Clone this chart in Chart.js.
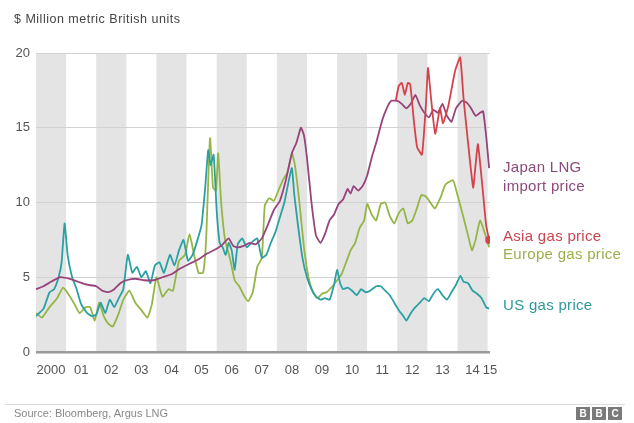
<!DOCTYPE html>
<html>
<head>
<meta charset="utf-8">
<script src="https://cdn.jsdelivr.net/npm/chart.js@4"></script>
<style>
  html, body { margin: 0; padding: 0; background: #fff; }
  #wrap { position: relative; width: 634px; height: 423px; font-family: "Liberation Sans", Arial, sans-serif; }
  #gasChart { position: absolute; left: 0; top: 0; }
  .unit { position: absolute; left: 14px; top: 12px; font-size: 12.5px; letter-spacing: 0.5px; color: #444; }
  .label { position: absolute; left: 503px; font-size: 15px; line-height: 19px; letter-spacing: 0.3px; }
  .rule { position: absolute; left: 5px; right: 9px; top: 404px; height: 1px; background: #dcdcdc; }
  .source { position: absolute; left: 14px; top: 407px; font-size: 11px; color: #888; }
  .bbc { position: absolute; left: 576px; top: 407px; display: flex; gap: 2px; }
  .bbc span { width: 14px; height: 13px; background: #7a7a7a; color: #fff; font: bold 10px "Liberation Sans", Arial, sans-serif; text-align: center; line-height: 13px; }
</style>
</head>
<body>
<div id="wrap">
  <canvas id="gasChart" width="634" height="423"></canvas>
  <div class="unit">$ Million metric British units</div>
  <div class="label" style="top:157px;color:#8a4a7c">Japan LNG<br>import price</div>
  <div class="label" style="top:226px;color:#cc464f">Asia gas price</div>
  <div class="label" style="top:244px;color:#9bb04c">Europe gas price</div>
  <div class="label" style="top:295px;color:#2f9a9a">US gas price</div>
  <div class="rule"></div>
  <div class="source">Source: Bloomberg, Argus LNG</div>
  <div class="bbc"><span>B</span><span>B</span><span>C</span></div>
</div>
<script>
// ── Data ($ per million BTU, decimal years) ─────────────────
const japanYears = [2000.0, 2000.25, 2000.5, 2000.8, 2001.1, 2001.4, 2001.7, 2002.0, 2002.2, 2002.4, 2002.6, 2002.8,
  2003.0, 2003.3, 2003.6, 2003.9, 2004.2, 2004.5, 2004.8, 2005.1, 2005.4, 2005.7, 2006.0, 2006.2, 2006.4, 2006.55,
  2006.7, 2006.9, 2007.1, 2007.3, 2007.5, 2007.7, 2007.9, 2008.1, 2008.3, 2008.5, 2008.65, 2008.8, 2008.9, 2009.0,
  2009.15, 2009.3, 2009.45, 2009.6, 2009.75, 2009.9, 2010.05, 2010.2, 2010.35, 2010.45, 2010.55, 2010.7, 2010.85,
  2011.0, 2011.15, 2011.3, 2011.5, 2011.65, 2011.8, 2012.0, 2012.15, 2012.3, 2012.45, 2012.6, 2012.75, 2012.9,
  2013.05, 2013.2, 2013.35, 2013.5, 2013.65, 2013.8, 2013.95, 2014.15, 2014.3, 2014.45, 2014.6, 2014.75, 2014.85,
  2014.95, 2015.05];
const japanPrices = [4.2, 4.4, 4.7, 5.0, 4.9, 4.7, 4.5, 4.4, 4.1, 4.0, 4.2, 4.6,
  4.8, 4.9, 4.8, 4.8, 5.0, 5.2, 5.6, 5.9, 6.2, 6.6, 6.9, 7.2, 7.6, 7.1,
  7.0, 7.1, 7.3, 7.2, 7.6, 8.5, 9.5, 10.1, 11.5, 13.3, 14.0, 15.0, 14.5, 13.0,
  10.0, 7.8, 7.3, 7.9, 8.8, 9.2, 9.9, 10.2, 10.9, 10.6, 11.1, 10.8, 11.1,
  11.8, 13.0, 14.0, 15.5, 16.3, 16.8, 16.8, 16.6, 16.3, 16.6, 17.2, 16.5, 16.0,
  15.7, 16.2, 16.0, 16.6, 15.8, 15.4, 16.3, 16.8, 16.7, 16.3, 15.8, 16.0, 16.1,
  14.5, 12.3];

const asiaYears = [2011.95, 2012.05, 2012.15, 2012.25, 2012.35, 2012.43, 2012.55, 2012.66, 2012.82, 2012.95, 2013.02,
  2013.12, 2013.26, 2013.42, 2013.52, 2013.7, 2013.92, 2014.09, 2014.2, 2014.32, 2014.52, 2014.6, 2014.68, 2014.85,
  2014.95, 2015.05];
const asiaPrices = [16.8, 17.8, 18.0, 17.2, 18.0, 17.9, 15.5, 13.7, 13.2, 16.5, 19.0,
  17.0, 14.6, 16.3, 15.3, 16.5, 18.8, 19.7, 17.0, 14.6, 11.0, 12.5, 13.9, 10.6,
  8.5, 7.5];

const europeYears = [2000.0, 2000.2, 2000.45, 2000.7, 2000.9, 2001.1, 2001.25, 2001.45, 2001.65, 2001.8, 2001.95,
  2002.1, 2002.25, 2002.4, 2002.55, 2002.75, 2002.9, 2003.1, 2003.3, 2003.5, 2003.7, 2003.85, 2004.0, 2004.2,
  2004.4, 2004.55, 2004.75, 2004.95, 2005.1, 2005.25, 2005.4, 2005.55, 2005.65, 2005.78, 2005.88, 2005.98, 2006.05,
  2006.15, 2006.28, 2006.45, 2006.6, 2006.75, 2006.9, 2007.05, 2007.2, 2007.35, 2007.5, 2007.6, 2007.75, 2007.9,
  2008.05, 2008.2, 2008.35, 2008.5, 2008.6, 2008.75, 2008.9, 2009.05, 2009.2, 2009.35, 2009.5, 2009.65, 2009.85,
  2010.0, 2010.15, 2010.3, 2010.45, 2010.6, 2010.75, 2010.9, 2011.0, 2011.15, 2011.3, 2011.45, 2011.6, 2011.75,
  2011.9, 2012.05, 2012.2, 2012.35, 2012.5, 2012.65, 2012.8, 2012.95, 2013.1, 2013.25, 2013.45, 2013.6, 2013.85,
  2014.0, 2014.2, 2014.35, 2014.48, 2014.6, 2014.75, 2014.9, 2015.05];
const europePrices = [2.6, 2.3, 3.0, 3.6, 4.3, 3.8, 3.3, 2.6, 3.0, 3.0, 2.1,
  3.3, 2.4, 1.9, 1.7, 2.6, 3.5, 4.1, 3.3, 2.8, 2.3, 3.2, 5.0, 3.7,
  4.2, 4.1, 6.1, 6.5, 7.9, 6.5, 5.3, 5.3, 7.5, 14.3, 11.0, 10.8, 13.3,
  10.0, 7.5, 6.2, 4.8, 4.4, 3.8, 3.4, 4.0, 5.7, 6.3, 9.8, 10.3, 10.1,
  10.8, 11.5, 12.0, 13.3, 12.5, 10.0, 7.0, 5.0, 4.0, 3.6, 3.9, 4.0, 4.4,
  4.8, 5.2, 6.0, 6.8, 7.3, 8.3, 8.8, 9.9, 9.2, 8.8, 9.9, 10.0, 9.1,
  8.6, 9.3, 9.6, 8.6, 8.8, 9.6, 10.5, 10.4, 10.0, 9.6, 10.4, 11.2, 11.5,
  10.5, 9.0, 7.8, 6.8, 7.5, 8.8, 8.0, 7.0];

const usYears = [2000.0, 2000.25, 2000.45, 2000.6, 2000.75, 2000.85, 2000.95, 2001.05, 2001.2, 2001.35, 2001.5,
  2001.7, 2001.85, 2002.0, 2002.15, 2002.3, 2002.45, 2002.6, 2002.75, 2002.9, 2003.05, 2003.2, 2003.35, 2003.5,
  2003.65, 2003.8, 2003.95, 2004.1, 2004.25, 2004.45, 2004.6, 2004.75, 2004.9, 2005.05, 2005.2, 2005.35, 2005.5,
  2005.62, 2005.72, 2005.8, 2005.9, 2006.0, 2006.1, 2006.2, 2006.3, 2006.4, 2006.5, 2006.6, 2006.7, 2006.85,
  2007.0, 2007.2, 2007.35, 2007.5, 2007.65, 2007.8, 2007.95, 2008.1, 2008.25, 2008.4, 2008.5, 2008.58, 2008.7,
  2008.85, 2009.0, 2009.15, 2009.3, 2009.45, 2009.6, 2009.75, 2009.9, 2010.0, 2010.1, 2010.2, 2010.35, 2010.5,
  2010.65, 2010.8, 2010.95, 2011.1, 2011.3, 2011.45, 2011.6, 2011.75, 2011.9, 2012.05, 2012.2, 2012.3, 2012.45,
  2012.6, 2012.75, 2012.9, 2013.05, 2013.2, 2013.35, 2013.5, 2013.65, 2013.8, 2013.95, 2014.1, 2014.2, 2014.35,
  2014.5, 2014.65, 2014.8, 2014.95, 2015.05];
const usPrices = [2.4, 2.9, 4.0, 4.2, 5.0, 6.0, 8.6, 6.5, 5.0, 4.2, 3.2,
  2.6, 2.4, 2.5, 3.3, 2.6, 3.5, 3.0, 3.6, 4.2, 6.5, 5.3, 5.7, 5.0,
  5.4, 4.6, 5.8, 6.0, 5.3, 6.5, 5.8, 6.8, 7.5, 6.1, 6.5, 7.4, 8.5,
  11.0, 13.5, 12.5, 13.2, 9.5, 7.3, 7.0, 6.5, 7.3, 6.8, 5.5, 7.2, 7.6,
  7.0, 7.4, 7.6, 6.3, 6.5, 7.3, 8.0, 9.0, 10.0, 11.5, 12.3, 10.5, 8.5,
  6.3, 5.0, 4.2, 3.7, 3.5, 3.6, 3.5, 4.5, 5.5, 4.6, 4.2, 4.3, 4.1,
  3.8, 4.2, 4.0, 4.1, 4.4, 4.4, 4.1, 3.8, 3.3, 2.8, 2.4, 2.1, 2.6,
  3.0, 3.3, 3.6, 3.4, 3.9, 4.2, 3.8, 3.5, 4.0, 4.5, 5.1, 4.7, 4.6,
  4.1, 3.9, 3.6, 3.0, 2.9];

// x-axis labels sit in the middle of each year, "15" at the right edge
const tickPositions = [2000.5, 2001.5, 2002.5, 2003.5, 2004.5, 2005.5, 2006.5, 2007.5, 2008.5, 2009.5,
  2010.5, 2011.5, 2012.5, 2013.5, 2014.5, 2015.08];
const tickLabels = ["2000", "01", "02", "03", "04", "05", "06", "07", "08", "09", "10", "11", "12", "13", "14", "15"];
const shadedYears = [2000, 2002, 2004, 2006, 2008, 2010, 2012, 2014];
const yTicks = [0, 5, 10, 15, 20];

const toPoints = (xs, ys) => xs.map((x, i) => ({ x, y: ys[i] }));

// grey bands for alternate years, painted before grid and lines
const yearBands = {
  id: "yearBands",
  beforeDraw(chart) {
    const { ctx, chartArea, scales } = chart;
    ctx.save();
    ctx.fillStyle = "#e4e4e4";
    shadedYears.forEach((yr) => {
      const x0 = scales.x.getPixelForValue(yr);
      const x1 = scales.x.getPixelForValue(yr + 1);
      ctx.fillRect(x0, chartArea.top, x1 - x0, chartArea.bottom - chartArea.top);
    });
    ctx.restore();
  },
};

const line = (label, points, color, extra = {}) => ({
  label,
  data: points,
  borderColor: color,
  backgroundColor: color,
  borderWidth: 1.8,
  pointRadius: 0,
  tension: 0.15,
  fill: false,
  ...extra,
});

new Chart(document.getElementById("gasChart"), {
  type: "line",
  data: {
    datasets: [
      line("Asia gas price", toPoints(asiaYears, asiaPrices), "#d4434c", {
        pointRadius: (c) => (c.dataIndex === asiaYears.length - 1 ? 3 : 0),
      }),
      line("Japan LNG import price", toPoints(japanYears, japanPrices), "#97437c"),
      line("US gas price", toPoints(usYears, usPrices), "#2aa0a4"),
      line("Europe gas price", toPoints(europeYears, europePrices), "#95b545"),
    ],
  },
  options: {
    responsive: false,
    animation: false,
    devicePixelRatio: 1,
    layout: { padding: { top: 53, right: 144, left: 0, bottom: 0 } },
    plugins: { legend: { display: false }, tooltip: { enabled: false } },
    scales: {
      x: {
        type: "linear",
        min: 2000,
        max: 2015.08,
        afterBuildTicks: (axis) => { axis.ticks = tickPositions.map((v) => ({ value: v })); },
        afterFit: (axis) => { axis.height = 71; },
        ticks: {
          autoSkip: false,
          maxRotation: 0,
          padding: 3,
          color: "#555",
          font: { family: "Liberation Sans", size: 13 },
          callback: (v, i) => tickLabels[i],
        },
        grid: { display: false },
        border: { display: false },
      },
      y: {
        min: 0,
        max: 20,
        afterBuildTicks: (axis) => { axis.ticks = yTicks.map((v) => ({ value: v })); },
        afterFit: (axis) => { axis.width = 36; },
        ticks: {
          padding: 6,
          color: "#555",
          font: { family: "Liberation Sans", size: 13 },
        },
        grid: {
          drawTicks: false,
          color: (c) => (c.tick.value === 0 ? "#9a9a9a" : "#d2d2d2"),
          lineWidth: (c) => (c.tick.value === 0 ? 2.5 : 1),
        },
        border: { display: false },
      },
    },
  },
  plugins: [yearBands],
});
</script>
</body>
</html>
